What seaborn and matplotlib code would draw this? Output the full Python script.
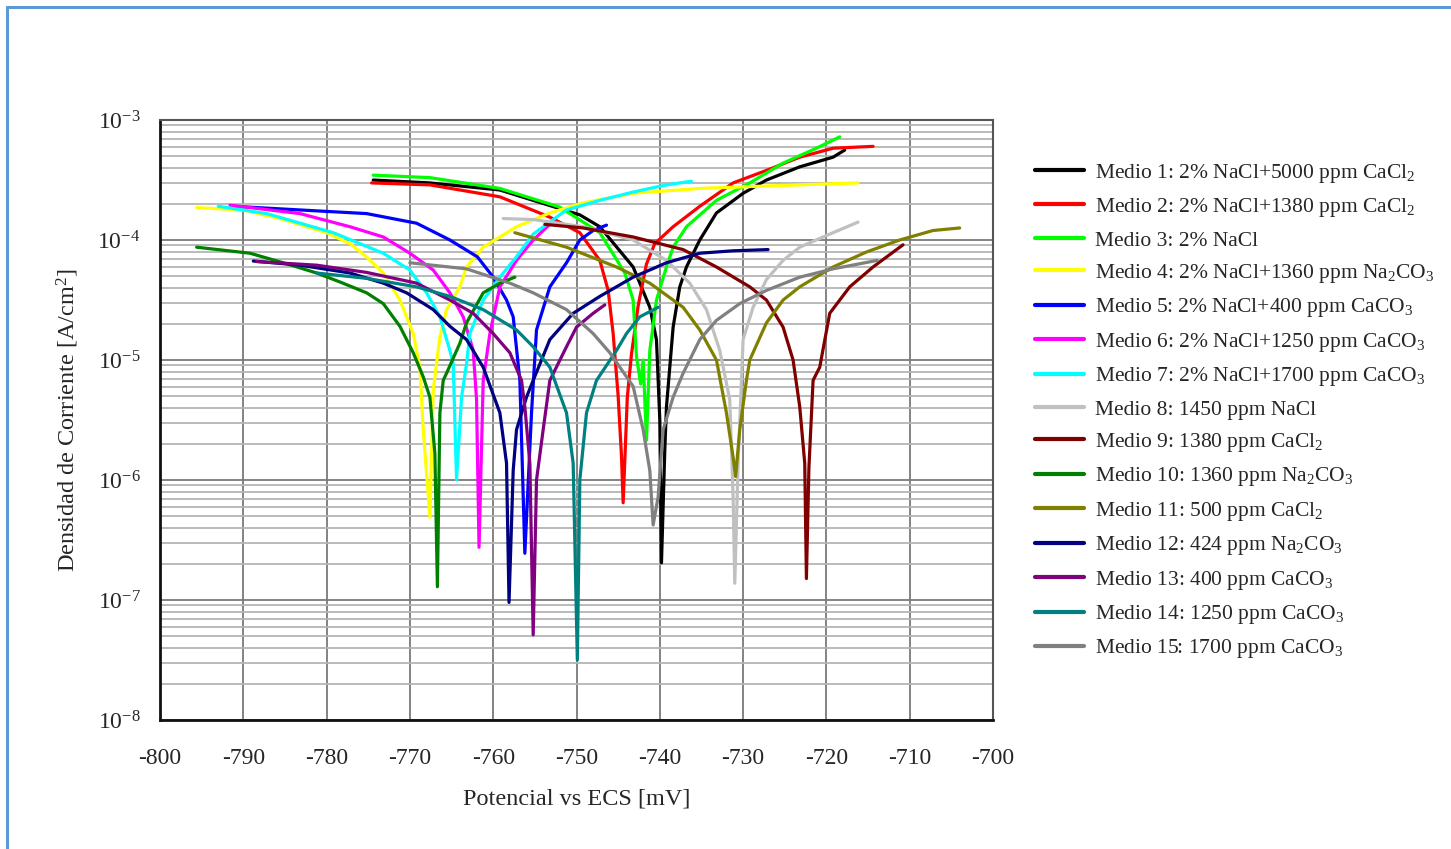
import numpy as np
import pandas as pd
import matplotlib
matplotlib.use("Agg")
import matplotlib.pyplot as plt
from matplotlib.lines import Line2D
from matplotlib.ticker import LogLocator, LogFormatterSciNotation, MultipleLocator, NullFormatter
import seaborn as sns

# ---------------- data ----------------
labels = [
    "Medio 1: 2% NaCl+5000 ppm CaCl$_2$",
    "Medio 2: 2% NaCl+1380 ppm CaCl$_2$",
    "Medio 3: 2% NaCl",
    "Medio 4: 2% NaCl+1360 ppm Na$_2$CO$_3$",
    "Medio 5: 2% NaCl+400 ppm CaCO$_3$",
    "Medio 6: 2% NaCl+1250 ppm CaCO$_3$",
    "Medio 7: 2% NaCl+1700 ppm CaCO$_3$",
    "Medio 8: 1450 ppm NaCl",
    "Medio 9: 1380 ppm CaCl$_2$",
    "Medio 10: 1360 ppm Na$_2$CO$_3$",
    "Medio 11: 500 ppm CaCl$_2$",
    "Medio 12: 424 ppm Na$_2$CO$_3$",
    "Medio 13: 400 ppm CaCO$_3$",
    "Medio 14: 1250 ppm CaCO$_3$",
    "Medio 15: 1700 ppm CaCO$_3$",
]
colors = ["#000000", "#FF0000", "#00FF00", "#FFFF00", "#0000FF", "#FF00FF", "#00FFFF",
          "#C0C0C0", "#800000", "#008000", "#808000", "#000080", "#800080", "#008080", "#808080"]

E1 = [-774.4, -767.6, -759.2, -749.6, -747.2, -743.2, -741.2, -740.4, -740.0, -739.8, -739.4, -739.2,
      -738.4, -737.6, -736.8, -735.2, -733.2, -730.0, -727.2, -723.2, -719.2, -717.8]
I1 = [3.16e-4, 2.99e-4, 2.61e-4, 1.62e-4, 1.29e-4, 5.96e-5, 2.75e-5, 1.48e-5, 3.16e-6, 2.04e-7, 1.78e-6, 4.07e-6,
      1.88e-5, 4.07e-5, 5.96e-5, 1.0e-4, 1.68e-4, 2.45e-4, 3.16e-4, 4.07e-4, 4.90e-4, 5.62e-4]

E2 = [-774.6, -767.6, -759.2, -753.2, -749.6, -747.2, -746.2, -745.6, -745.0, -744.6, -744.4, -743.9,
      -743.4, -742.6, -741.6, -740.6, -738.4, -735.2, -731.2, -727.2, -723.2, -719.2, -714.4]
I2 = [2.99e-4, 2.88e-4, 2.29e-4, 1.55e-4, 1.15e-4, 6.76e-5, 3.80e-5, 1.66e-5, 5.01e-6, 1.58e-6, 6.46e-7, 4.90e-6,
      1.12e-5, 2.82e-5, 6.31e-5, 9.33e-5, 1.29e-4, 1.91e-4, 2.99e-4, 3.80e-4, 4.90e-4, 5.82e-4, 6.03e-4]

E3 = [-774.4, -767.6, -759.2, -752.0, -747.2, -745.4, -744.2, -743.2, -742.8, -742.3, -742.0, -741.6,
      -741.2, -740.4, -739.2, -738.4, -736.8, -733.2, -729.2, -725.2, -721.2, -718.4]
I3 = [3.47e-4, 3.31e-4, 2.69e-4, 1.88e-4, 1.15e-4, 7.24e-5, 5.31e-5, 3.16e-5, 1.07e-5, 6.31e-6, 1.0e-5, 2.14e-6,
      1.20e-5, 3.16e-5, 5.96e-5, 8.71e-5, 1.29e-4, 2.14e-4, 2.99e-4, 4.37e-4, 5.82e-4, 7.24e-4]

E4 = [-795.6, -790.0, -785.2, -780.0, -777.2, -775.2, -773.2, -771.2, -769.6, -768.8, -768.4, -767.6,
      -767.2, -766.4, -765.6, -764.0, -763.2, -761.2, -759.2, -757.2, -753.2, -749.2, -743.2, -735.2,
      -727.2, -716.2]
I4 = [1.86e-4, 1.78e-4, 1.48e-4, 1.15e-4, 9.33e-5, 7.24e-5, 5.31e-5, 3.16e-5, 1.66e-5, 8.71e-6, 2.63e-6, 4.90e-7,
      5.62e-6, 1.55e-5, 2.63e-5, 4.07e-5, 5.96e-5, 8.71e-5, 1.06e-4, 1.29e-4, 1.68e-4, 2.04e-4, 2.45e-4, 2.69e-4,
      2.82e-4, 2.99e-4]

E5 = [-791.2, -783.2, -775.2, -769.2, -765.2, -761.9, -760.0, -758.4, -757.6, -756.8, -756.2, -755.4,
      -754.8, -753.2, -751.2, -749.6, -748.0, -746.4]
I5 = [1.91e-4, 1.78e-4, 1.66e-4, 1.38e-4, 1.0e-4, 7.24e-5, 4.90e-5, 3.16e-5, 2.29e-5, 6.76e-6, 2.45e-7, 3.63e-6,
      1.78e-5, 4.07e-5, 6.46e-5, 1.0e-4, 1.20e-4, 1.33e-4]

E6 = [-791.6, -783.2, -777.2, -773.2, -770.0, -767.2, -765.2, -763.6, -762.4, -762.0, -761.7, -761.2,
      -760.4, -759.2, -757.2, -755.2, -752.6]
I6 = [1.95e-4, 1.66e-4, 1.29e-4, 1.06e-4, 7.76e-5, 5.62e-5, 3.63e-5, 2.29e-5, 1.20e-5, 4.68e-6, 2.75e-7, 6.76e-6,
      1.66e-5, 4.07e-5, 6.76e-5, 1.0e-4, 1.48e-4]

E7 = [-793.0, -787.2, -779.2, -773.2, -770.0, -768.0, -766.4, -765.2, -764.8, -764.4, -763.8, -763.2,
      -762.8, -761.2, -759.2, -757.2, -755.2, -751.2, -747.2, -743.2, -739.2, -736.2]
I7 = [1.91e-4, 1.66e-4, 1.15e-4, 7.76e-5, 5.62e-5, 3.63e-5, 2.29e-5, 1.20e-5, 9.33e-6, 1.0e-6, 4.90e-6, 9.33e-6,
      1.66e-5, 3.16e-5, 4.90e-5, 7.24e-5, 1.12e-4, 1.78e-4, 2.14e-4, 2.51e-4, 2.88e-4, 3.09e-4]

E8 = [-758.8, -755.2, -749.2, -743.2, -739.2, -736.4, -734.4, -732.8, -731.6, -731.2, -731.0, -730.6,
      -730.0, -728.8, -727.2, -725.2, -723.2, -720.4, -716.2]
I8 = [1.51e-4, 1.48e-4, 1.29e-4, 1.0e-4, 6.76e-5, 4.37e-5, 2.63e-5, 1.20e-5, 4.68e-6, 7.24e-7, 1.38e-7, 1.38e-6,
      1.48e-5, 2.75e-5, 4.68e-5, 6.76e-5, 8.71e-5, 1.06e-4, 1.41e-4]

E9 = [-753.8, -749.2, -743.2, -737.2, -733.2, -729.2, -727.2, -725.2, -724.0, -723.2, -722.6, -722.4,
      -722.1, -721.6, -720.8, -719.6, -717.2, -714.4, -710.8]
I9 = [1.35e-4, 1.26e-4, 1.06e-4, 8.32e-5, 5.96e-5, 4.07e-5, 3.16e-5, 1.88e-5, 1.0e-5, 4.07e-6, 1.38e-6, 1.51e-7,
      1.26e-6, 6.76e-6, 8.71e-6, 2.45e-5, 4.07e-5, 5.96e-5, 9.12e-5]

E10 = [-795.6, -789.2, -785.2, -781.2, -778.4, -775.2, -773.2, -771.2, -769.6, -768.4, -767.6, -767.0,
       -766.7, -766.4, -766.0, -765.6, -764.0, -763.2, -761.2, -759.2, -757.4]
I10 = [8.71e-5, 7.76e-5, 6.46e-5, 5.31e-5, 4.47e-5, 3.63e-5, 2.95e-5, 1.91e-5, 1.15e-5, 7.24e-6, 4.90e-6, 1.66e-6,
       1.29e-7, 3.63e-6, 6.76e-6, 7.76e-6, 1.38e-5, 2.04e-5, 3.63e-5, 4.37e-5, 4.90e-5]

E11 = [-757.4, -751.2, -745.2, -741.2, -737.2, -735.2, -733.2, -732.0, -731.2, -730.9, -730.4, -729.6,
       -729.2, -727.2, -725.2, -723.2, -719.2, -715.2, -711.2, -707.2, -704.0]
I11 = [1.15e-4, 8.71e-5, 5.96e-5, 4.37e-5, 2.75e-5, 1.78e-5, 1.0e-5, 3.63e-6, 1.55e-6, 1.07e-6, 2.63e-6, 6.76e-6,
       1.0e-5, 2.04e-5, 3.16e-5, 4.07e-5, 5.96e-5, 7.94e-5, 1.0e-4, 1.20e-4, 1.26e-4]

E12 = [-788.8, -783.2, -777.2, -773.2, -770.4, -767.2, -765.2, -763.2, -761.2, -759.2, -758.4, -758.1,
       -757.6, -757.2, -756.0, -755.2, -753.2, -750.4, -747.2, -743.2, -739.2, -735.2, -731.2, -727.0]
I12 = [6.68e-5, 6.17e-5, 5.31e-5, 4.37e-5, 3.63e-5, 2.63e-5, 1.91e-5, 1.48e-5, 8.71e-6, 3.63e-6, 1.38e-6, 9.55e-8,
       1.20e-6, 2.63e-6, 4.90e-6, 6.76e-6, 1.48e-5, 2.45e-5, 3.39e-5, 4.90e-5, 6.46e-5, 7.76e-5, 8.13e-5, 8.32e-5]

E13 = [-788.4, -781.2, -775.2, -769.2, -765.2, -762.4, -760.0, -758.0, -756.6, -756.2, -755.6, -755.2,
       -754.8, -754.0, -753.2, -751.2, -750.0, -748.0, -746.6]
I13 = [6.61e-5, 6.17e-5, 5.37e-5, 4.37e-5, 3.16e-5, 2.45e-5, 1.66e-5, 1.15e-5, 6.76e-6, 4.07e-6, 1.38e-6, 5.13e-8,
       1.0e-6, 2.63e-6, 6.76e-6, 1.29e-5, 1.88e-5, 2.45e-5, 2.88e-5]

E14 = [-781.2, -775.2, -769.2, -765.2, -761.2, -757.2, -755.2, -753.2, -751.2, -750.4, -749.9, -749.6,
       -748.8, -747.6, -745.2, -744.0, -742.4, -740.2]
I14 = [5.31e-5, 4.79e-5, 4.07e-5, 3.39e-5, 2.63e-5, 1.78e-5, 1.29e-5, 8.71e-6, 3.63e-6, 1.38e-6, 3.16e-8, 1.0e-6,
       3.63e-6, 6.76e-6, 1.20e-5, 1.66e-5, 2.29e-5, 2.75e-5]

E15 = [-770.0, -763.2, -758.0, -755.2, -751.2, -748.0, -746.0, -743.2, -742.0, -741.2, -740.8, -740.2,
       -739.6, -738.4, -737.2, -735.2, -733.2, -730.4, -727.2, -723.2, -719.2, -713.9]
I15 = [6.46e-5, 5.75e-5, 4.37e-5, 3.63e-5, 2.63e-5, 1.66e-5, 1.15e-5, 6.03e-6, 2.63e-6, 1.20e-6, 4.22e-7, 7.24e-7,
       2.63e-6, 4.90e-6, 7.76e-6, 1.48e-5, 2.14e-5, 2.95e-5, 3.80e-5, 4.90e-5, 5.75e-5, 6.76e-5]

x_ticks = [-800, -790, -780, -770, -760, -750, -740, -730, -720, -710, -700]

# ---------------- build long table ----------------
E_all = [E1, E2, E3, E4, E5, E6, E7, E8, E9, E10, E11, E12, E13, E14, E15]
I_all = [I1, I2, I3, I4, I5, I6, I7, I8, I9, I10, I11, I12, I13, I14, I15]
frames = []
for lab, e, i in zip(labels, E_all, I_all):
    frames.append(pd.DataFrame({"E": e, "I": i, "Medio": lab}))
df = pd.concat(frames, ignore_index=True)
palette = dict(zip(labels, colors))

# ---------------- figure ----------------
sns.set_theme(style="white")
plt.rcParams["font.family"] = ["Liberation Serif", "DejaVu Serif"]
plt.rcParams["mathtext.default"] = "regular"
plt.rcParams["mathtext.fontset"] = "custom"
plt.rcParams["mathtext.rm"] = "Liberation Serif"
plt.rcParams["mathtext.it"] = "Liberation Serif:italic"
plt.rcParams["axes.unicode_minus"] = False

W, H = 1451, 849
fig = plt.figure(figsize=(W / 100, H / 100), dpi=100)
ax = fig.add_axes([160 / W, 1 - 720 / H, (993 - 160) / W, (720 - 120) / H])

ax.set_yscale("log")
ax.set_xlim(-800, -700)
ax.set_ylim(1e-8, 1e-3)

# grid
ax.xaxis.set_major_locator(MultipleLocator(10))
ax.yaxis.set_major_locator(LogLocator(base=10, numticks=10))
ax.yaxis.set_minor_locator(LogLocator(base=10, subs=np.arange(2, 10), numticks=20))
ax.yaxis.set_minor_formatter(NullFormatter())
ax.yaxis.set_major_formatter(LogFormatterSciNotation())
ax.grid(which="minor", axis="y", color="#b4b4b4", linewidth=1.3)
ax.grid(which="major", axis="both", color="#7a7a7a", linewidth=1.3)
ax.set_axisbelow(True)

sns.lineplot(data=df, x="E", y="I", hue="Medio", hue_order=labels, palette=palette,
             sort=False, estimator=None, linewidth=2.3, legend=False, ax=ax)

ax.set_xticks(x_ticks)
ax.tick_params(axis="both", which="major", direction="out", length=8, width=1.3,
               color="#222222", labelsize=17, pad=6)
ax.tick_params(axis="y", which="minor", length=0)
ax.tick_params(axis="x", pad=12)
for side in ["left", "bottom"]:
    ax.spines[side].set_color("#111111")
    ax.spines[side].set_linewidth(2.0)
for side in ["top", "right"]:
    ax.spines[side].set_color("#555555")
    ax.spines[side].set_linewidth(1.5)

ax.set_xlabel("Potencial vs ECS [mV]", fontsize=17.5, labelpad=14)
ax.set_ylabel("Densidad de Corriente [A/cm$^2$]", fontsize=17.5, labelpad=12)

# legend
handles = [Line2D([0], [0], color=c, lw=3) for c in colors]
fig.legend(handles, labels, loc="upper left", bbox_to_anchor=(1026 / W, 1 - 153 / H),
           frameon=False, fontsize=15.5, handlelength=2.3, handletextpad=0.5,
           labelspacing=0.53, borderaxespad=0)

# blue frame around the figure (left and top edges visible)
fig.add_artist(Line2D([7 / W, 7 / W], [0, 1 - 7 / H], transform=fig.transFigure,
                      color="#5b9bd5", lw=2.2))
fig.add_artist(Line2D([7 / W, 1.0], [1 - 7 / H, 1 - 7 / H], transform=fig.transFigure,
                      color="#5b9bd5", lw=2.2))

fig.savefig("out.png", dpi=100)
